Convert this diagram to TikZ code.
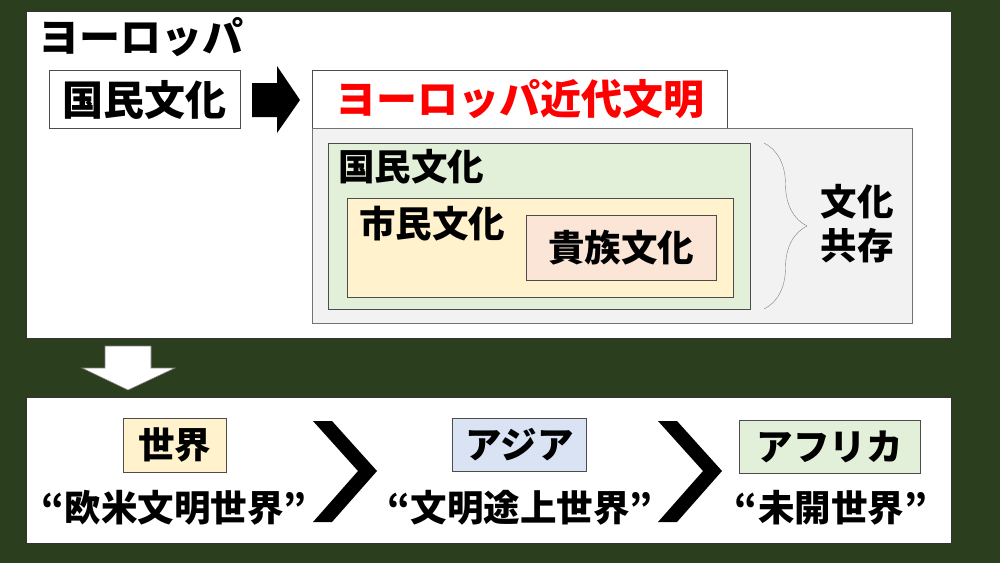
\documentclass[tikz,border=0pt]{standalone}
\usepackage{fontspec}
\setmainfont{Noto Sans CJK JP}
\usetikzlibrary{decorations.pathreplacing}

\definecolor{board}{RGB}{43,62,30}
\definecolor{coexist}{RGB}{242,242,242}
\definecolor{nationG}{RGB}{226,240,217}
\definecolor{citizenY}{RGB}{255,242,204}
\definecolor{nobleP}{RGB}{251,229,214}
\definecolor{asiaB}{RGB}{218,227,243}

\tikzset{
  panel/.style={draw=black!80, line width=1pt, fill=white, inner sep=0pt},
  cbox/.style={draw=black!70, line width=1pt, inner sep=0pt},
  lbl/.style={font=\fontsize{36.5}{44}\selectfont\bfseries, inner sep=0pt},
  biglbl/.style={font=\fontsize{41}{42}\selectfont\bfseries, inner sep=0pt},
}

\begin{document}
\begin{tikzpicture}[x=1pt,y=-1pt]
    % Board
    \fill[board] (0,0) rectangle (1000,563);
    \useasboundingbox (0,0) rectangle (1000,563);

    % Upper panel
    \node[panel, anchor=north west, minimum width=925, minimum height=327] (europe) at (26,11) {};
    \node[biglbl, anchor=west] (title) at (38,37) {ヨーロッパ};

    % National culture and the black arrow
    \node[cbox, fill=white, biglbl, minimum width=191, minimum height=58] (kokumin) at (144.5,99.5) {国民文化};
    \fill (252,83) -- (277,83) -- (277,66) -- (300,100) -- (277,133) -- (277,117) -- (252,117) -- cycle;

    % Modern civilisation
    \node[cbox, fill=white, biglbl, text=red, minimum width=415, minimum height=58] (modern) at (519.5,99) {ヨーロッパ近代文明};
    \node[cbox, draw=black!55, fill=coexist, anchor=north west, minimum width=600, minimum height=195] (coexist) at (312,128) {};

    % Nested cultures
    \node[cbox, fill=nationG, anchor=north west, minimum width=422, minimum height=166] (nation) at (328,143) {};
    \node[lbl, anchor=west] (nationlbl) at (338,167) {国民文化};
    \node[cbox, fill=citizenY, anchor=north west, minimum width=386, minimum height=99] (citizen) at (347,198) {};
    \node[lbl, anchor=west] (citizenlbl) at (359,224) {市民文化};
    \node[cbox, fill=nobleP, lbl, minimum width=190, minimum height=65] (noble) at (621,247.5) {貴族文化};

    % Brace and label
    \draw[black!50, decorate, decoration={brace, amplitude=43pt}] (764,143) -- (764,309);
    \node[lbl, align=center] (kyozon) at (857,224) {文化\\共存};

    % Down arrow
    \filldraw[fill=white, draw=black!50, line width=0.6pt] (105,346) -- (151,346) -- (151,368) -- (175,368) -- (128,390) -- (82,368) -- (105,368) -- cycle;

    % Lower panel
    \node[panel, anchor=north west, minimum width=925, minimum height=146] (ranking) at (26,397) {};

    \node[cbox, fill=citizenY, lbl, minimum width=103, minimum height=54] (world) at (174.5,445) {世界};
    \node[lbl] (worldlbl) at (174,508) {“欧米文明世界”};
    \node[cbox, fill=asiaB, lbl, minimum width=134, minimum height=53] (asia) at (519.5,444.5) {アジア};
    \node[lbl] (asialbl) at (520,508) {“文明途上世界”};
    \node[cbox, fill=nationG, lbl, minimum width=181, minimum height=53] (africa) at (829.5,446.5) {アフリカ};
    \node[lbl] (africalbl) at (831,508) {“未開世界”};

    % Greater-than marks
    \foreach \dx in {0,345}
        \fill[xshift=\dx] (313,421) -- (332,421) -- (377,471) -- (332,522) -- (313,522) -- (358,471) -- cycle;
\end{tikzpicture}
\end{document}
